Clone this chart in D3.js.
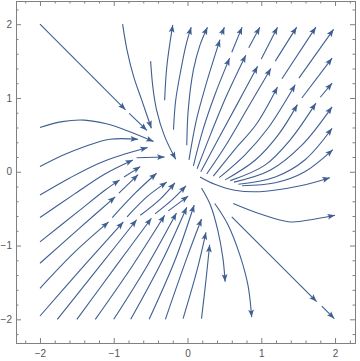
<!DOCTYPE html>
<html>
<head>
<meta charset="utf-8">
<script src="https://cdn.jsdelivr.net/npm/d3@7"></script>
<style>
  body { margin: 0; background: #fff; }
  svg { display: block; }
  .tick text { font-family: "Liberation Sans", Arial, sans-serif; font-size: 10px; fill: #555; }
</style>
</head>
<body>
<svg width="360" height="361"></svg>
<script>
// tick labels
const xTicks = [-2, -1, 0, 1, 2];
const yTicks = [-2, -1, 0, 1, 2];

// streamline pieces, in data units.
// every piece ends with an arrow head
const streamsNW = [
  [[-2, 2], [-0.84, 0.84]],
  [[-0.79, 0.79], [-0.55, 0.56]],
  [[-0.88, 2.0], [-0.82, 1.65], [-0.73, 1.29], [-0.62, 0.97], [-0.49, 0.59]],
  [[-0.5, 1.5], [-0.47, 1.15], [-0.42, 0.84], [-0.31, 0.48], [-0.16, 0.17]],
  [[-0.31, 0.97], [-0.28, 1.43], [-0.2, 1.99]],
  [[-2, 0.6], [-1.7, 0.68], [-1.4, 0.7], [-1.1, 0.65], [-0.8, 0.55], [-0.46, 0.41]],
  [[-2, 0.07], [-1.7, 0.22], [-1.4, 0.34], [-1.05, 0.44], [-0.67, 0.44]]
];

const streamsNE = [
  [[-0.19, 0.57], [-0.16, 0.97], [-0.09, 1.38], [-0.02, 1.72], [0.05, 1.96]],
  [[-0.01, 0.36], [0.01, 0.84], [0.08, 1.38], [0.17, 1.72], [0.27, 1.96]],
  [[0.02, 0.16], [0.12, 0.7], [0.25, 1.18], [0.44, 1.79]],
  [[0.46, 1.86], [0.5, 1.96]],
  [[0.08, 0.08], [0.21, 0.57], [0.37, 1.04], [0.57, 1.54]],
  [[0.6, 1.62], [0.74, 1.96]],
  [[0.13, 0.04], [0.31, 0.5], [0.52, 1.01], [0.79, 1.58]],
  [[0.83, 1.68], [0.98, 1.96]],
  [[0.18, 0.0], [0.41, 0.43], [0.67, 0.91], [0.95, 1.43]],
  [[1.0, 1.53], [1.22, 1.96]],
  [[0.26, -0.03], [0.52, 0.36], [0.82, 0.87], [1.13, 1.4]],
  [[1.19, 1.5], [1.48, 1.96]],
  [[0.35, -0.06], [0.64, 0.3], [0.93, 0.64], [1.22, 1.15]],
  [[1.28, 1.26], [1.74, 1.96]],
  [[0.43, -0.08], [0.78, 0.23], [1.09, 0.59], [1.46, 1.18]],
  [[1.51, 1.27], [1.98, 1.93]],
  [[0.51, -0.11], [0.92, 0.16], [1.23, 0.5], [1.49, 0.91]],
  [[1.55, 1.0], [1.96, 1.54]],
  [[0.58, -0.12], [1.05, 0.09], [1.39, 0.43], [1.74, 0.93]],
  [[1.8, 1.01], [1.96, 1.2]],
  [[0.63, -0.14], [1.12, 0.02], [1.55, 0.36], [1.96, 0.88]],
  [[0.69, -0.17], [1.19, -0.07], [1.59, 0.16], [1.96, 0.59]],
  [[0.74, -0.19], [1.19, -0.15], [1.59, 0.0], [1.97, 0.3]]
];

const streamsSE = [
  [[0.17, -0.07], [0.37, -0.17], [0.64, -0.25], [0.98, -0.27], [1.53, -0.19], [1.93, -0.08]],
  [[0.62, -0.43], [0.98, -0.57], [1.39, -0.68], [1.73, -0.64], [2.0, -0.59]],
  [[0.19, -0.22], [0.31, -0.45], [0.41, -0.79], [0.48, -1.17], [0.51, -1.49]],
  [[0.37, -0.43], [0.55, -0.72], [0.71, -1.13], [0.82, -1.54], [0.87, -1.97]],
  [[0.6, -0.61], [1.75, -1.76]],
  [[1.82, -1.82], [1.99, -1.99]]
];

const streamsSW = [
  [[-2, -0.315], [-1.59, -0.08], [-1.19, 0.12], [-0.85, 0.24], [-0.54, 0.33]],
  [[-2, -0.62], [-1.53, -0.3], [-1.12, -0.03], [-0.74, 0.16]],
  [[-0.69, 0.19], [-0.31, 0.2]],
  [[-2, -0.95], [-1.46, -0.52], [-1.12, -0.25], [-0.92, -0.11]],
  [[-0.86, -0.07], [-0.64, 0.07]],
  [[-2, -1.24], [-1.46, -0.76], [-0.98, -0.34]],
  [[-0.93, -0.29], [-0.67, -0.04]],
  [[-2, -1.58], [-1.53, -1.09], [-1.07, -0.68]],
  [[-1.02, -0.62], [-0.71, -0.29], [-0.42, -0.02]],
  [[-2, -1.955], [-1.39, -1.26], [-0.87, -0.68]],
  [[-0.82, -0.61], [-0.54, -0.33], [-0.28, -0.14]],
  [[-1.765, -2], [-1.19, -1.28], [-0.69, -0.65]],
  [[-0.64, -0.59], [-0.37, -0.37], [-0.17, -0.15]],
  [[-1.5, -2], [-0.97, -1.28], [-0.49, -0.63]],
  [[-0.44, -0.57], [-0.21, -0.38], [-0.02, -0.19]],
  [[-1.25, -2], [-0.75, -1.28], [-0.31, -0.59]],
  [[-0.26, -0.53], [0.01, -0.33]],
  [[-1.0, -2], [-0.55, -1.28], [-0.15, -0.56]],
  [[-0.77, -2], [-0.35, -1.22], [-0.01, -0.48]],
  [[-0.52, -2], [-0.17, -1.2], [0.09, -0.45]],
  [[-0.3, -2], [-0.01, -1.17], [0.19, -0.64]],
  [[-0.06, -1.99], [0.13, -1.33], [0.25, -0.82]],
  [[0.19, -1.99], [0.25, -1.47], [0.3, -0.99]]
];

const streamColor = "#3f5f92";
const frameColor = "#808080";

let svg = d3.select("svg");

// plot range is a bit wider than -2..2, like the original frame
let x = d3.scaleLinear().domain([-2.325, 2.28]).range([16, 355.7]);
let y = d3.scaleLinear().domain([-2.325, 2.305]).range([343.3, 1.7]);

let minorX = d3.range(-22, 23, 2).map(v => v / 10).filter(v => !xTicks.includes(v));
let minorY = d3.range(-22, 23, 2).map(v => v / 10).filter(v => !yTicks.includes(v));

// integer labels with a real minus sign
let fmt = d3.format("d");

// frame
svg.append("rect")
  .attr("x", 16.5).attr("y", 1.5)
  .attr("width", 339).attr("height", 342)
  .attr("fill", "none")
  .attr("stroke", frameColor);

// ticks point inward on all four sides, labels only bottom and left
let addAxis = function(axis, tr) {
  let g = svg.append("g").attr("transform", tr).call(axis);
  g.select(".domain").remove();
  g.selectAll(".tick line").attr("stroke", frameColor);
  return g;
};

addAxis(d3.axisBottom(x).tickValues(xTicks).tickSize(-5).tickPadding(6.6).tickFormat(fmt), "translate(0,343)");
addAxis(d3.axisBottom(x).tickValues(minorX).tickSize(-2.5).tickFormat(""), "translate(0,343)");
addAxis(d3.axisTop(x).tickValues(xTicks).tickSize(-5).tickFormat(""), "translate(0,1)");
addAxis(d3.axisTop(x).tickValues(minorX).tickSize(-2.5).tickFormat(""), "translate(0,1)");
addAxis(d3.axisLeft(y).tickValues(yTicks).tickSize(-5).tickPadding(4).tickFormat(fmt), "translate(16,0)");
addAxis(d3.axisLeft(y).tickValues(minorY).tickSize(-2.5).tickFormat(""), "translate(16,0)");
addAxis(d3.axisRight(y).tickValues(yTicks).tickSize(-5).tickFormat(""), "translate(355,0)");
addAxis(d3.axisRight(y).tickValues(minorY).tickSize(-2.5).tickFormat(""), "translate(355,0)");

// the streamlines
let line = d3.line()
  .x(d => x(d[0]))
  .y(d => y(d[1]))
  .curve(d3.curveCatmullRom.alpha(0.5));

let plot = svg.append("g").attr("id", "plot");
let allStreams = streamsNW.concat(streamsNE, streamsSE, streamsSW);

allStreams.forEach(function(pts) {
  let p = plot.append("path")
    .attr("d", line(pts))
    .attr("fill", "none")
    .attr("stroke", streamColor)
    .attr("stroke-width", 1.1);

  // arrow head at the end, turned along the last bit of the path
  let node = p.node();
  let len = node.getTotalLength();
  let a = node.getPointAtLength(Math.max(0, len - 5));
  let b = node.getPointAtLength(len);
  let ang = Math.atan2(b.y - a.y, b.x - a.x) * 180 / Math.PI;

  plot.append("path")
    .attr("d", "M0,0L-7.5,-2.9L-6,0L-7.5,2.9Z")
    .attr("transform", "translate(" + b.x + "," + b.y + ") rotate(" + ang + ")")
    .attr("fill", streamColor);
});
</script>
</body>
</html>
